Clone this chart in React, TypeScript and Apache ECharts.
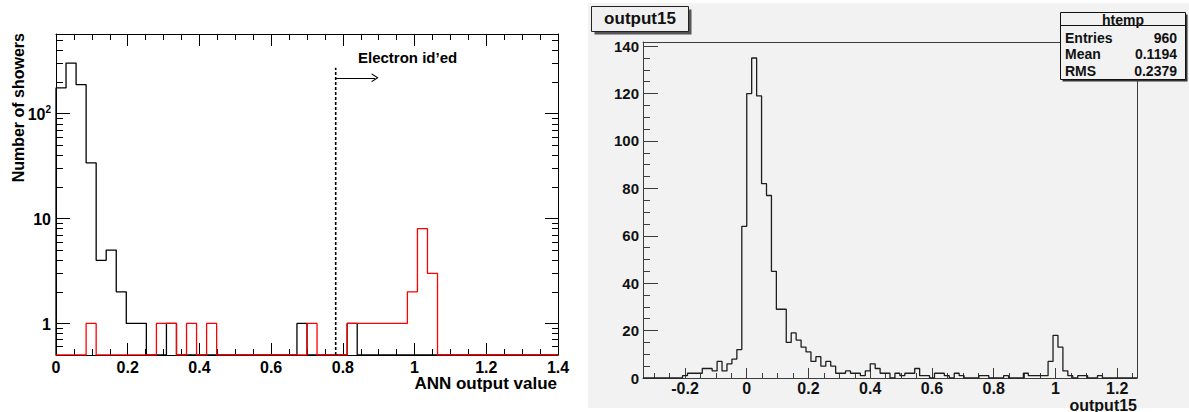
import React, { useEffect, useRef } from 'react';
import * as echarts from 'echarts';

// ---------- Left panel: ANN output value (50 bins, 0 .. 1.4) ----------
const annEdgeStart = 0;
const annBinWidth = 0.028;
const annBackground = [
  176, 304, 189, 34, 4, 5, 2, 1, 1, 0,
  0, 1, 0, 0, 0, 0, 0, 0, 0, 0,
  0, 0, 0, 0, 1, 0, 0, 0, 0, 1,
  0, 0, 0, 0, 0, 0, 0, 0, 0, 0,
  0, 0, 0, 0, 0, 0, 0, 0, 0, 0,
];
const annElectron = [
  0, 0, 0, 1, 0, 0, 0, 0, 0, 0,
  1, 1, 0, 1, 0, 1, 0, 0, 0, 0,
  0, 0, 0, 0, 0, 1, 0, 0, 0, 1,
  1, 1, 1, 1, 1, 2, 8, 3, 0, 0,
  0, 0, 0, 0, 0, 0, 0, 0, 0, 0,
];
const annXRange = [0, 1.4];
const annYRange = [0.5, 575];
const annYDecades = [1, 10, 100];
const annYMinor = [0.6, 0.7, 0.8, 0.9, 2, 3, 4, 5, 6, 7, 8, 9, 20, 30, 40, 50, 60, 70, 80, 90, 200, 300, 400, 500];
const annCut = 0.78;
const annCutTop = 274;
const annArrowEnd = 0.89;
const annArrowLevel = 220;

// ---------- Right panel: output15 (100 bins) ----------
const outEdgeStart = -0.336;
const outBinWidth = 0.016;
const outCounts = [
  0, 0, 0, 0, 0, 0, 0, 0, 1, 2,
  2, 2, 4, 4, 3, 7, 3, 6, 8, 12,
  64, 120, 135, 119, 82, 77, 45, 29, 29, 15,
  19, 16, 13, 11, 7, 9, 5, 7, 5, 2,
  2, 3, 2, 2, 1, 3, 6, 4, 2, 2,
  0, 2, 1, 2, 2, 4, 1, 1, 0, 2,
  2, 1, 0, 2, 1, 0, 0, 0, 1, 1,
  0, 0, 0, 1, 0, 0, 0, 2, 1, 1,
  1, 1, 7, 18, 13, 3, 1, 0, 1, 1,
  0, 0, 1, 0, 0, 0, 0, 0, 0, 0,
];
const outXRange = [-0.336, 1.264];
const outYRange = [0, 141.75];
const outXMajor = [-0.2, 0, 0.2, 0.4, 0.6, 0.8, 1, 1.2];
const outYMajor = [0, 20, 40, 60, 80, 100, 120, 140];
const statsTitle = 'htemp';
const statsLabels = ['Entries', 'Mean', 'RMS'];
const statsValues = ['960', '0.1194', '0.2379'];

const FONT = '"Liberation Sans", Arial, Helvetica, sans-serif';

function stepPoints(start: number, width: number, counts: number[], floor: number, tf: (c: number) => number) {
  const pts: number[][] = [[start, floor]];
  counts.forEach((c, i) => pts.push([start + i * width, tf(c)]));
  const end = start + counts.length * width;
  pts.push([end, tf(counts[counts.length - 1])]);
  pts.push([end, floor]);
  return pts;
}

function minorList(lo: number, hi: number, step: number, majors: number[]) {
  const res: number[] = [];
  for (let k = Math.ceil(lo / step - 1e-9); k * step <= hi + 1e-9; k++) {
    const v = +(k * step).toFixed(6);
    if (!majors.some((m) => Math.abs(m - v) < 1e-9)) res.push(v);
  }
  return res;
}

export default function App() {
  const ref = useRef<HTMLDivElement>(null);
  useEffect(() => {
    if (!ref.current) return;
    const chart = echarts.init(ref.current, undefined, { renderer: 'svg' });

    const L = { left: 56, top: 34, width: 502, height: 321 };
    const R = { left: 643, top: 42, width: 494, height: 336 };

    const lg = (v: number) => Math.log10(v);
    const yMinL = lg(annYRange[0]);
    const yMaxL = lg(annYRange[1]);
    const tfL = (c: number) => (c > 0 ? lg(c) : yMinL);

    const black = '#000';
    const frameR = '#3c3c3c';
    const labelStyle = { fontFamily: FONT, fontWeight: 'bold' as const, fontSize: 16, color: '#000' };

    const decadeTicks = annYDecades.map(lg);
    const minorTicksL = annYMinor.map(lg);
    const outXMinor = minorList(outXRange[0], outXRange[1], 0.05, outXMajor);
    const outYMinor = minorList(outYRange[0], outYRange[1], 5, outYMajor);

    const noSplit = { show: false };
    const hiddenLine = { show: false, onZero: false };

    const option: any = {
      animation: false,
      backgroundColor: '#fff',
      grid: [
        { ...L, outerBoundsMode: 'none', containLabel: false },
        { ...R, outerBoundsMode: 'none', containLabel: false },
      ],
      xAxis: [
        {
          gridIndex: 0, type: 'value', position: 'bottom', min: annXRange[0], max: annXRange[1], interval: 0.2,
          axisLine: { show: true, onZero: false, lineStyle: { color: black, width: 1 } },
          axisTick: { show: true, inside: true, length: 12, lineStyle: { color: black } },
          minorTick: { show: true, splitNumber: 4, length: 6, lineStyle: { color: black } },
          axisLabel: { show: true, margin: 4, ...labelStyle, fontSize: 16 },
          splitLine: noSplit, minorSplitLine: noSplit,
        },
        {
          gridIndex: 0, type: 'value', position: 'top', min: annXRange[0], max: annXRange[1], interval: 0.2,
          axisLine: { show: true, onZero: false, lineStyle: { color: black, width: 1 } },
          axisTick: { show: true, inside: true, length: 12, lineStyle: { color: black } },
          minorTick: { show: true, splitNumber: 4, length: 6, lineStyle: { color: black } },
          axisLabel: { show: false }, splitLine: noSplit, minorSplitLine: noSplit,
        },
        {
          gridIndex: 1, type: 'value', position: 'bottom', min: outXRange[0], max: outXRange[1],
          axisLine: { show: true, onZero: false, lineStyle: { color: frameR, width: 1 } },
          axisTick: { show: true, inside: true, length: 10, customValues: outXMajor, lineStyle: { color: frameR } },
          axisLabel: { show: true, margin: 2, customValues: outXMajor, ...labelStyle, fontSize: 16, lineHeight: 16, color: '#111' },
          splitLine: noSplit,
        },
        {
          gridIndex: 1, type: 'value', position: 'bottom', min: outXRange[0], max: outXRange[1],
          axisLine: hiddenLine,
          axisTick: { show: true, inside: true, length: 5, customValues: outXMinor, lineStyle: { color: frameR } },
          axisLabel: { show: false }, splitLine: noSplit,
        },
        {
          gridIndex: 1, type: 'value', position: 'top', min: outXRange[0], max: outXRange[1],
          axisLine: { show: true, onZero: false, lineStyle: { color: frameR, width: 1 } },
          axisTick: { show: false }, axisLabel: { show: false }, splitLine: noSplit,
        },
      ],
      yAxis: [
        {
          gridIndex: 0, type: 'value', position: 'left', min: yMinL, max: yMaxL,
          axisLine: { show: true, onZero: false, lineStyle: { color: black, width: 1 } },
          axisTick: { show: true, inside: true, length: 14, customValues: decadeTicks, lineStyle: { color: black } },
          axisLabel: {
            show: true, margin: 5, customValues: decadeTicks,
            formatter: (v: number) => {
              const p = Math.round(v);
              return p >= 2 ? '{b|10}{s|' + p + '}' : '{b|' + Math.pow(10, p) + '}';
            },
            rich: {
              b: { ...labelStyle, fontSize: 16, lineHeight: 18, verticalAlign: 'bottom' },
              s: { ...labelStyle, fontSize: 10, lineHeight: 18, verticalAlign: 'top', padding: [0, 0, 6, 0] },
            },
          },
          splitLine: noSplit,
        },
        {
          gridIndex: 0, type: 'value', position: 'left', min: yMinL, max: yMaxL,
          axisLine: hiddenLine,
          axisTick: { show: true, inside: true, length: 7, customValues: minorTicksL, lineStyle: { color: black } },
          axisLabel: { show: false }, splitLine: noSplit,
        },
        {
          gridIndex: 0, type: 'value', position: 'right', min: yMinL, max: yMaxL,
          axisLine: { show: true, onZero: false, lineStyle: { color: black, width: 1 } },
          axisTick: { show: true, inside: true, length: 13, customValues: decadeTicks, lineStyle: { color: black } },
          axisLabel: { show: false }, splitLine: noSplit,
        },
        {
          gridIndex: 0, type: 'value', position: 'right', min: yMinL, max: yMaxL,
          axisLine: hiddenLine,
          axisTick: { show: true, inside: true, length: 6, customValues: minorTicksL, lineStyle: { color: black } },
          axisLabel: { show: false }, splitLine: noSplit,
        },
        {
          gridIndex: 1, type: 'value', position: 'left', min: outYRange[0], max: outYRange[1],
          axisLine: { show: true, onZero: false, lineStyle: { color: frameR, width: 1 } },
          axisTick: { show: true, inside: true, length: 15, customValues: outYMajor, lineStyle: { color: frameR } },
          axisLabel: { show: true, margin: 4, customValues: outYMajor, ...labelStyle, fontSize: 15, color: '#111' },
          splitLine: noSplit,
        },
        {
          gridIndex: 1, type: 'value', position: 'left', min: outYRange[0], max: outYRange[1],
          axisLine: hiddenLine,
          axisTick: { show: true, inside: true, length: 7, customValues: outYMinor, lineStyle: { color: frameR } },
          axisLabel: { show: false }, splitLine: noSplit,
        },
        {
          gridIndex: 1, type: 'value', position: 'right', min: outYRange[0], max: outYRange[1],
          axisLine: { show: true, onZero: false, lineStyle: { color: frameR, width: 1 } },
          axisTick: { show: false }, axisLabel: { show: false }, splitLine: noSplit,
        },
      ],
      series: [
        {
          type: 'line', xAxisIndex: 0, yAxisIndex: 0, step: 'end', symbol: 'none', silent: true,
          data: stepPoints(annEdgeStart, annBinWidth, annBackground, yMinL, tfL),
          lineStyle: { color: '#000', width: 1.3 }, z: 3,
        },
        {
          type: 'line', xAxisIndex: 0, yAxisIndex: 0, step: 'end', symbol: 'none', silent: true,
          data: stepPoints(annEdgeStart, annBinWidth, annElectron, yMinL, tfL),
          lineStyle: { color: '#ff0000', width: 1.3 }, z: 4,
        },
        {
          type: 'line', xAxisIndex: 0, yAxisIndex: 0, symbol: 'none', silent: true,
          data: [[annCut, yMinL], [annCut, lg(annCutTop)]],
          lineStyle: { color: '#000', width: 1.6, type: [3, 2] }, z: 5,
          markLine: {
            silent: true, animation: false,
            symbol: ['none', 'path://M0,10 L5,0 L10,10 L8.6,10 L5,2.8 L1.4,10 Z'],
            symbolSize: [9, 7],
            label: { show: false },
            lineStyle: { color: '#000', width: 1.2, type: 'solid' },
            data: [[{ coord: [annCut, lg(annArrowLevel)] }, { coord: [annArrowEnd, lg(annArrowLevel)] }]],
          },
        },
        {
          type: 'line', xAxisIndex: 2, yAxisIndex: 4, step: 'end', symbol: 'none', silent: true,
          data: stepPoints(outEdgeStart, outBinWidth, outCounts, 0, (c) => c),
          lineStyle: { color: '#1e1e1e', width: 1.3 }, z: 3,
        },
      ],
      graphic: [
        { type: 'rect', z: -100, silent: true, shape: { x: 588, y: 3, width: 601, height: 405 }, style: { fill: '#f2f2f2' } },
        // left titles
        {
          type: 'text', x: 18, y: 33, rotation: Math.PI / 2, silent: true,
          style: { text: 'Number of showers', font: `bold 16px ${FONT}`, fill: '#000', align: 'right', verticalAlign: 'middle' },
        },
        {
          type: 'text', x: 557, y: 383, silent: true,
          style: { text: 'ANN output value', font: `bold 17px ${FONT}`, fill: '#000', align: 'right', verticalAlign: 'middle' },
        },
        {
          type: 'text', x: 358, y: 57, silent: true,
          style: { text: 'Electron id\u2019ed', font: `bold 15px ${FONT}`, fill: '#000', align: 'left', verticalAlign: 'middle' },
        },
        // right x title
        {
          type: 'text', x: 1137, y: 405, silent: true,
          style: { text: 'output15', font: `bold 16px ${FONT}`, fill: '#111', align: 'right', verticalAlign: 'middle' },
        },
        // title box
        { type: 'rect', z: 100, silent: true, shape: { x: 594.5, y: 9.5, width: 97, height: 25 }, style: { fill: '#555' } },
        { type: 'rect', z: 101, silent: true, shape: { x: 591.5, y: 6.5, width: 97, height: 25 }, style: { fill: '#f0f0f0', stroke: '#222', lineWidth: 1 } },
        {
          type: 'text', z: 102, x: 640, y: 18.5, silent: true,
          style: { text: 'output15', font: `bold 17px ${FONT}`, fill: '#111', align: 'center', verticalAlign: 'middle' },
        },
        // stats box
        { type: 'rect', z: 100, silent: true, shape: { x: 1062.5, y: 14.5, width: 125, height: 67 }, style: { fill: '#333' } },
        { type: 'rect', z: 101, silent: true, shape: { x: 1060.5, y: 12.5, width: 125, height: 67 }, style: { fill: '#f2f2f2', stroke: '#111', lineWidth: 1 } },
        { type: 'line', z: 102, silent: true, shape: { x1: 1060.5, y1: 25.5, x2: 1185.5, y2: 25.5 }, style: { stroke: '#111', lineWidth: 1 } },
        {
          type: 'text', z: 102, x: 1123, y: 19.5, silent: true,
          style: { text: statsTitle, font: `bold 14px ${FONT}`, fill: '#111', align: 'center', verticalAlign: 'middle' },
        },
        ...statsLabels.map((t, i) => ({
          type: 'text', z: 102, x: 1065, y: 37.5 + i * 16.6, silent: true,
          style: { text: t, font: `bold 14px ${FONT}`, fill: '#111', align: 'left', verticalAlign: 'middle' },
        })),
        ...statsValues.map((t, i) => ({
          type: 'text', z: 102, x: 1177, y: 37.5 + i * 16.6, silent: true,
          style: { text: t, font: `bold 14px ${FONT}`, fill: '#111', align: 'right', verticalAlign: 'middle' },
        })),
      ],
    };

    chart.setOption(option);
    return () => chart.dispose();
  }, []);

  return <div ref={ref} style={{ position: 'fixed', left: 0, top: 0, width: 1189, height: 412 }} />;
}
